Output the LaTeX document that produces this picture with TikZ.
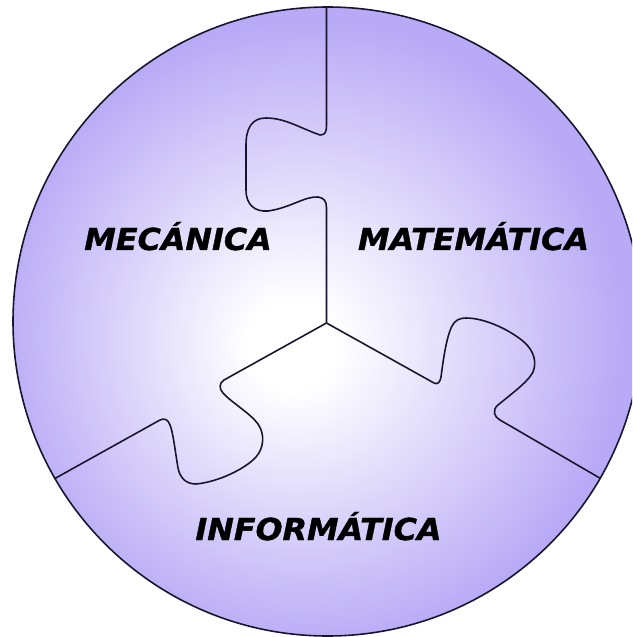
\documentclass[tikz,border=0pt]{standalone}
\usepackage{fontspec}
\usepackage{tikz}
\newfontfamily\subjectfont[FakeStretch=1.05,FakeBold=1.2]{DejaVu Sans}
\definecolor{lilac}{RGB}{184,170,246}
\definecolor{seam}{RGB}{25,20,45}
\pgfdeclareradialshading{lilacglow}{\pgfpoint{-3bp}{-2bp}}{%
  color(0bp)=(white); color(3.5bp)=(white); color(25bp)=(lilac); color(50bp)=(lilac)}
\newcommand{\disc}{(327.5,321.5) circle (314.5)}

\begin{document}
\begin{tikzpicture}[x=0.01cm,y=-0.01cm,
    subject/.style={font=\subjectfont\bfseries\itshape\fontsize{8.6pt}{10pt}\selectfont,
      inner sep=0pt,anchor=base},
    seamline/.style={seam,line width=0.45pt,line join=round}]
    \useasboundingbox (0,0) rectangle (632,637);
    \clip (0,0) rectangle (632,637);
    % the disc
    \shade[shading=lilacglow] \disc;
    \coordinate (hub) at (326.5,323);
    % three puzzle seams, cut at the rim
    \begin{scope}\clip \disc;
    \draw[seamline] (hub) -- (326.5,208)
      .. controls (326.5,201) and (324,198) .. (318,197)
      .. controls (305,196) and (290,208) .. (268,211)
      .. controls (255,212) and (246,205) .. (246,190) -- (246,145)
      .. controls (246,128) and (252,118) .. (266,118)
      .. controls (285,118) and (300,128) .. (320,135)
      .. controls (325,135) and (326.5,132) .. (326.5,126) -- (326.5,0);
    \draw[seamline] (hub) -- (434,383)
      .. controls (438,385) and (440,382) .. (441,377)
      .. controls (443,362) and (446,338) .. (452,326)
      .. controls (455,320) and (460,318) .. (466,318)
      .. controls (485,318) and (510,330) .. (524,342)
      .. controls (534,351) and (537,362) .. (533,372)
      .. controls (528,382) and (510,395) .. (498,405)
      .. controls (492,410) and (494,417) .. (500,420) -- (610,484);
    \draw[seamline] (hub) -- (224,380)
      .. controls (219,383) and (219,389) .. (223,393)
      .. controls (232,403) and (250,413) .. (258,424)
      .. controls (265,434) and (264,448) .. (256,457)
      .. controls (245,469) and (218,482) .. (196,484)
      .. controls (186,484) and (180,478) .. (178,468)
      .. controls (175,450) and (173,432) .. (170,425)
      .. controls (168,419) and (164,418) .. (160,420) -- (45,484);
    \end{scope}
    % rim
    \draw[seamline] \disc;
    \node[subject] (mec) at (178,250) {MECÁNICA};
    \node[subject] (mat) at (473.5,250) {MATEMÁTICA};
    \node[subject] (inf) at (318.5,540) {INFORMÁTICA};
\end{tikzpicture}
\end{document}
